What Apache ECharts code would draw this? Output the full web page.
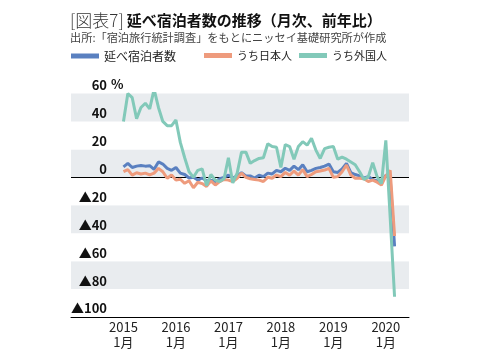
<!DOCTYPE html>
<html>
<head>
<meta charset="utf-8">
<script src="https://cdn.jsdelivr.net/npm/echarts@6/dist/echarts.min.js"></script>
<style>
html,body{margin:0;padding:0;background:#fff;}
#c{width:478px;height:356px;}
</style>
</head>
<body>
<div id="c"></div>
<script>
// Monthly data, Jan 2015 – Mar 2020 (year-on-year %, negative = ▲)
const yearLabels = ['2015', '2016', '2017', '2018', '2019', '2020'];
const seriesNames = ['延べ宿泊者数', 'うち日本人', 'うち外国人'];
const total = [
  7.5, 10, 7, 8, 8.5, 8, 8.3, 5.7, 11, 9.5, 6.4, 5,
  7, 3, 2, -0.5, 0, -2, -0.5, -2.5, -2, -3, -1, 0,
  1.5, -0.5, 1, 3.3, 1, 1, -0.5, 1.5, 0.5, 3, 2.4, 5,
  4, 6.5, 5, 8, 5.5, 9, 4, 5, 6.4, 7, 8, 9.5,
  4, 3.5, 6, 10, 3.3, 2, 1, -0.5, 0.5, -1.5, -2.5, -3.5,
  1.5, -1, -49.5
];
const japanese = [
  4, 5.5, 1.6, 3.3, 2.4, 3, 1.7, 3, 6.4, 4, -0.7, 1.7,
  -2, -1.4, -4.3, -2.4, -7.5, -3.5, -4.5, -6.5, -2.5, -5.5, -3.1, -1.5,
  -2, -3.1, -0.7, 3, 0, -1, -1.5, -2, -3, 0, -0.7, 1.6,
  0.5, 3.5, 1.5, 4.5, 1.6, 5.5, 0.5, 2, 4, 4.5, 5.2, 6.4,
  0, 0.5, 4, 8.8, 1.6, -0.7, -0.7, -1, -3, -2, -3.5, -5.5,
  1, 5, -42
];
const foreign = [
  40, 60, 57, 42, 50, 53, 49, 63, 50, 40, 37, 37,
  41, 25, 14, 4, 0, 5, 6, -6, 2, -2, -3, -1,
  14, -4, 3, 18, 18, 10, 12, 13.5, 14, 24, 22, 21.5,
  7, 23.5, 22, 13, 22, 25.5, 23, 28, 19.5, 13.5, 20.5, 21.5,
  22, 13, 14.5, 13, 11, 9, 4, -1.5, 0.5, 10.5, 0.5, -4.5,
  26.5, -29, -85.5
];
const yTicks = [60, 40, 20, 0, -20, -40, -60, -80, -100];

const colors = ['#5a80c0', '#ee9b7d', '#82c9b9'];
const toPts = arr => arr.map((v, i) => [i, v]);

const chart = echarts.init(document.getElementById('c'), null, {renderer: 'canvas'});
const FF = '"Noto Sans CJK JP", "Noto Sans", sans-serif';

function mkSeries(name, data, idx) {
  const s = {
    name: name,
    type: 'line',
    data: toPts(data),
    showSymbol: false,
    symbol: 'none',
    lineStyle: {color: colors[idx], width: 3},
    itemStyle: {color: colors[idx]},
    z: 3 + idx,
    animation: false
  };
  if (idx === 0) {
    s.markLine = {
      silent: true,
      symbol: 'none',
      label: {show: false},
      lineStyle: {color: '#000', width: 1, type: 'solid'},
      data: [{yAxis: 0}],
      z: 2
    };
  }
  return s;
}

function mkLegend(i, left, fs) {
  return {
    left: left,
    top: 50,
    padding: 0,
    itemWidth: 28,
    itemHeight: 5,
    icon: 'rect',
    textStyle: {fontSize: fs, color: '#222', fontFamily: FF},
    data: [seriesNames[i]]
  };
}

chart.setOption({
  animation: false,
  textStyle: {fontFamily: FF},
  title: {
    text: '{a|[図表7]}{b|延べ宿泊者数の推移（月次、前年比）}',
    subtext: '出所:「宿泊旅行統計調査」をもとにニッセイ基礎研究所が作成',
    left: 70,
    top: 12,
    itemGap: 3,
    padding: [0, 0, 0, 0],
    textStyle: {
      rich: {
        a: {fontSize: 17, fontWeight: 300, color: '#333', fontFamily: FF, padding: [0, 3, 0, 0]},
        b: {fontSize: 15, fontWeight: 'bold', color: '#111', fontFamily: FF}
      }
    },
    subtextStyle: {fontSize: 11.2, color: '#444', fontFamily: FF}
  },
  legend: [mkLegend(0, 71, 12), mkLegend(1, 204, 11), mkLegend(2, 299, 11)],
  grid: {left: 71, right: 69, top: 93.5, bottom: 39, containLabel: false},
  xAxis: {
    type: 'value',
    min: -12,
    max: 65.3,
    interval: 12,
    axisLine: {show: true, onZero: false, lineStyle: {color: '#000', width: 1}},
    axisTick: {show: false},
    splitLine: {show: false},
    axisLabel: {
      showMaxLabel: false,
      margin: 3,
      fontSize: 13,
      lineHeight: 15,
      color: '#222',
      fontFamily: FF,
      formatter: function (v) {
        if (v < 0 || v % 12 !== 0) return '';
        const y = yearLabels[v / 12];
        return y ? y + '\n1月' : '';
      }
    }
  },
  yAxis: {
    type: 'value',
    min: -100,
    max: 60,
    interval: 20,
    axisLine: {show: false},
    axisTick: {show: false},
    splitLine: {show: false},
    splitArea: {show: true, areaStyle: {color: ['#ffffff', '#e9ecef']}},
    axisLabel: {
      margin: -36,
      fontSize: 13,
      fontWeight: 'bold',
      color: '#111',
      fontFamily: FF,
      verticalAlign: 'bottom',
      padding: [0, 0, 2, 0],
      formatter: function (v) {
        if (yTicks.indexOf(v) < 0) return '';
        return v < 0 ? '▲' + (-v) : String(v);
      }
    }
  },
  graphic: [{
    type: 'text',
    left: 111,
    top: 78,
    style: {text: '%', fontSize: 13, fontWeight: 'bold', fill: '#111', fontFamily: FF}
  }],
  series: [
    mkSeries(seriesNames[0], total, 0),
    mkSeries(seriesNames[1], japanese, 1),
    mkSeries(seriesNames[2], foreign, 2)
  ]
});
</script>
</body>
</html>
